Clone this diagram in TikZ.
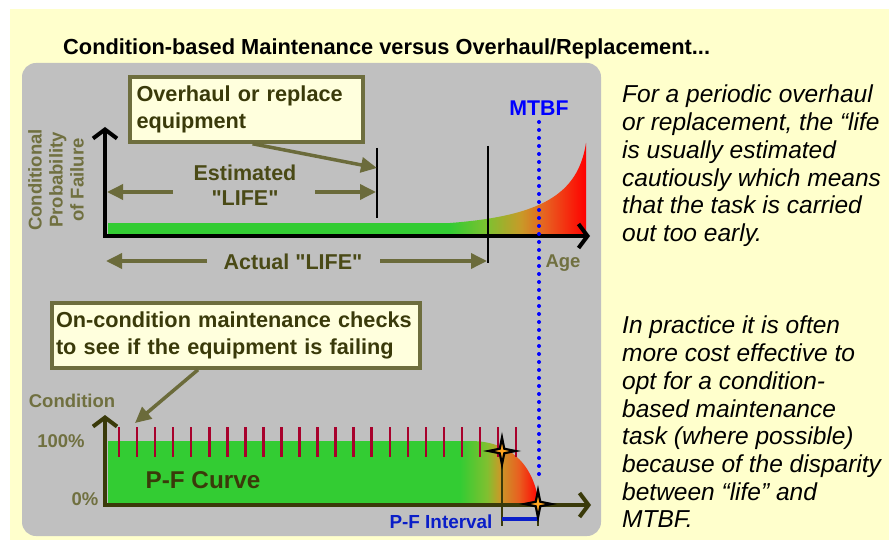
\documentclass[tikz,border=0pt]{standalone}
\usepackage{fontspec}
\setmainfont{Liberation Sans}[Ligatures=TeXOff]
\usetikzlibrary{arrows.meta,shapes.geometric}

\definecolor{bgyellow}{HTML}{FFFFCC}
\definecolor{panel}{HTML}{C0C0C0}
\definecolor{boxfill}{HTML}{FFFFDD}
\definecolor{boxline}{HTML}{6E6E3E}
\definecolor{olive}{HTML}{6B6B3B}
\definecolor{darkolive}{HTML}{3A3A0A}
\definecolor{labolive}{HTML}{4A4A16}
\definecolor{greyolive}{HTML}{707040}
\definecolor{pgreen}{HTML}{33CC33}
\definecolor{tickred}{HTML}{A8002C}
\definecolor{mtbfblue}{HTML}{0000FF}
\definecolor{pfblue}{HTML}{0A1EC8}
\definecolor{ga}{HTML}{80C030}
\definecolor{gb}{HTML}{C89A28}
\definecolor{gc}{HTML}{E86020}
\definecolor{gd}{HTML}{FF0000}
\definecolor{starfill}{HTML}{FFA520}

% age-related rise: green to red, left to right
\pgfdeclarehorizontalshading{agegrad}{100bp}{color(0bp)=(pgreen); color(25bp)=(pgreen);
  color(39bp)=(ga); color(51bp)=(gb); color(60bp)=(gc); color(75bp)=(gd); color(100bp)=(gd)}
% P-F decline: green to red, left to right
\pgfdeclarehorizontalshading{pfgrad}{100bp}{color(0bp)=(pgreen); color(25bp)=(pgreen);
  color(42bp)=(ga); color(50bp)=(gb); color(62bp)=(gc); color(75bp)=(gd); color(100bp)=(gd)}

\newcommand\fsz[2]{\fontsize{#1}{#2}\selectfont}
% plain (straight) double quote
\newcommand\dq{\symbol{34}}

\tikzset{
  callout/.style={draw=boxline, line width=3.5pt, fill=boxfill, align=left,
    text=darkolive, font=\fsz{21.7}{27}\bfseries, inner sep=0pt},
  pointer/.style={draw=olive, line width=3.5pt, -{Triangle[length=16pt,width=15pt]}},
  lifearrow/.style={draw=olive, line width=3.5pt, -{Triangle[length=16pt,width=15pt]}},
  lifelabel/.style={text=labolive, font=\fsz{21.5}{25}\bfseries, align=center},
  axislabel/.style={text=greyolive, font=\fsz{18.5}{21}\bfseries, align=center, inner sep=0pt},
  topaxis/.style={draw=black, line width=4pt, line join=miter,
    {Straight Barb[length=9pt,width=24pt]}-{Straight Barb[length=9pt,width=24pt]}},
  botaxis/.style={draw=darkolive, line width=4pt, line join=miter,
    {Straight Barb[length=9pt,width=24pt]}-{Straight Barb[length=9pt,width=24pt]}},
  lifeend/.style={draw=black, line width=2pt},
  tickmark/.style={draw=tickred, line width=2.5pt},
  pfline/.style={draw=darkolive, line width=1.5pt},
  pfbar/.style={draw=pfblue, line width=3.5pt},
  mtbfdots/.style={draw=mtbfblue, line width=4pt, line cap=round, dash pattern=on 0pt off 8pt},
  pfstar/.style={star, star points=4, star point ratio=4.2, minimum size=27pt, inner sep=0pt,
    fill=starfill, draw=black, line width=2.2pt},
  note/.style={anchor=north west, align=left, inner sep=0pt, text=black,
    font=\fsz{24.5}{27.7}\itshape}
}

\begin{document}
\begin{tikzpicture}[x=1pt, y=-1pt]
\useasboundingbox (0,0) rectangle (889,540);
\fill[white] (0,0) rectangle (889,540);
\fill[bgyellow] (10,9) rectangle (889,540);

% title
\node[anchor=base west, inner sep=0pt, font=\fsz{21.8}{26}\bfseries] (title) at (63,55)
  {Condition-based Maintenance versus Overhaul/Replacement...};

% grey panel
\fill[panel, rounded corners=14pt] (22,63) rectangle (601,536);

% ---------- upper chart: conditional probability of failure ----------
\fill[pgreen] (108,223) rectangle (451,236);
\shade[shading=agegrad] (450,236) -- (450,223) .. controls (540,216) and (578,195) .. (586,143) -- (586,236) -- cycle;
\draw[topaxis] (105,127) |- (590,236);

\node[axislabel, rotate=90] (cpf) at (56,180) {Conditional\\Probability\\of Failure};
\node[axislabel] (age) at (563,263) {Age};

\coordinate (estend) at (377,168);
\draw[lifeend] (377,148) -- (377,218);
\draw[lifeend] (488,146) -- (488,263);

\node[lifelabel] (est) at (245,185) {Estimated\\\dq LIFE\dq};
\coordinate (estL) at (107,192);
\coordinate (estR) at (376,192);
\draw[lifearrow] (173,192) -- (estL);
\draw[lifearrow] (315,192) -- (estR);

\node[lifelabel] (act) at (293,262) {Actual \dq LIFE\dq};
\coordinate (actL) at (106,261);
\coordinate (actR) at (487,261);
\draw[lifearrow] (207,261) -- (actL);
\draw[lifearrow] (380,261) -- (actR);

\node[callout, minimum width=233pt, minimum height=65pt, text width=220pt] (ovbox) at (246.5,109.5)
  {Overhaul or replace\\equipment};
\draw[pointer] ([xshift=6pt]ovbox.south) -- (estend);

% ---------- lower chart: P-F curve ----------
\fill[pgreen] (108,441) rectangle (461,505);
\shade[shading=pfgrad] (460,505) -- (460,441) -- (470,441) .. controls (515,441) and (535,470) .. (539,505) -- cycle;
\draw[botaxis] (105,415) |- (591,505);

\foreach \i in {0,...,22} \draw[tickmark] ({119+\i*18.05},427) -- ++(0,30);

\node[axislabel] (cond) at (72,401) {Condition};
\node[axislabel] (full) at (61,441) {100\%};
\node[axislabel] (zero) at (85,499) {0\%};
\node[text=darkolive, font=\fsz{24.3}{28}\bfseries] (pfc) at (203,480) {P-F Curve};

\coordinate (P) at (502,451);
\coordinate (F) at (538,504);
\coordinate (pfbase) at (0,526);
\coordinate (barlvl) at (0,519);
\draw[pfline] (P) -- (P |- pfbase);
\draw[pfline] (F) -- (F |- pfbase);
\draw[pfbar] (P |- barlvl) -- (F |- barlvl);
\node[pfstar] (Pstar) at (P) {};
\node[pfstar] (Fstar) at (F) {};
\node[text=pfblue, font=\fsz{18.9}{22}\bfseries, inner sep=0pt] (pfi) at (441,522) {P-F Interval};

\node[callout, minimum width=368pt, minimum height=65pt, text width=360pt] (ckbox) at (236,335.5)
  {On-condition maintenance checks\\to see if the equipment is failing};
\coordinate (ticktop) at (135,423);
\draw[pointer] ([xshift=-38pt]ckbox.south) -- (ticktop);

% MTBF marker
\node[text=mtbfblue, font=\fsz{21.3}{25}\bfseries, inner sep=0pt] (mtbf) at (539,108) {MTBF};
\draw[mtbfdots] (539,122) -- (539,476);

% notes on the right
\node[note] (note1) at (622,85)
  {For a periodic overhaul\\or replacement, the “life\\is usually estimated\\cautiously which means\\that the task is carried\\out too early.};
\node[note] (note2) at (622,316)
  {In practice it is often\\more cost effective to\\opt for a condition-\\based maintenance\\task (where possible)\\because of the disparity\\between “life” and\\MTBF.};
\end{tikzpicture}
\end{document}
